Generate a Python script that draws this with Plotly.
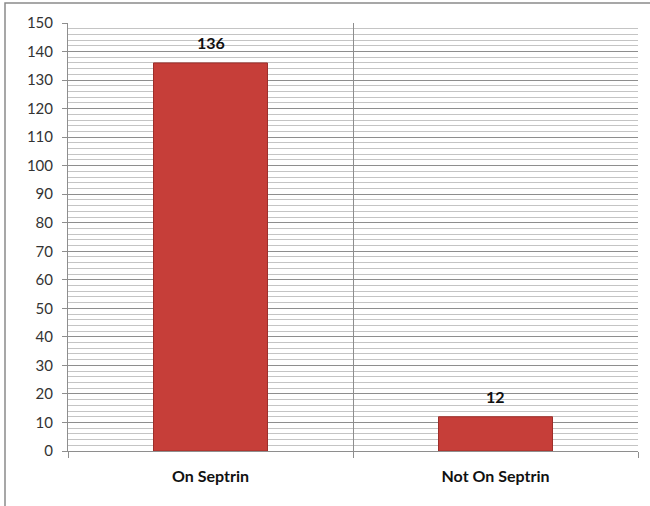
import plotly.graph_objects as go

categories = ["On Septrin", "Not On Septrin"]
values = [136, 12]
y_tick_values = list(range(0, 151, 10))

fig = go.Figure()
fig.add_trace(go.Bar(
    x=categories,
    y=values,
    marker=dict(color="#C63E39", line=dict(color="#9E2E2A", width=1)),
    cliponaxis=False,
))

for c, v in zip(categories, values):
    fig.add_annotation(
        x=c, y=v, text=str(v), showarrow=False,
        yanchor="bottom", yshift=9,
        font=dict(family="Lato", size=16, color="#111111", weight="bold"),
    )

# plot area in pixels: x 68..638, y 23..451
L, R, T, B = 68, 638, 23, 451
W, H = 650, 506
pw, ph = R - L, B - T

def px_x(x):
    return (x - L) / pw

def px_y(y):
    return (B - y) / ph

fig.update_layout(
    width=W, height=H,
    margin=dict(l=L, r=W - R, t=T, b=H - B),
    paper_bgcolor="white",
    plot_bgcolor="white",
    bargap=0.6,
    showlegend=False,
    font=dict(family="Lato", color="#333333"),
    shapes=[
        dict(type="rect", xref="paper", yref="paper",
             x0=px_x(5), x1=px_x(652), y0=px_y(509), y1=px_y(3),
             line=dict(color="#8a8a8a", width=1.5), fillcolor="rgba(0,0,0,0)", layer="below"),
    ],
)

fig.update_yaxes(
    range=[0, 150],
    tickvals=y_tick_values,
    showgrid=True, gridcolor="#8e8e8e", gridwidth=1,
    minor=dict(dtick=2, showgrid=True, gridcolor="#c4c4c4", gridwidth=1),
    showline=True, linecolor="#8e8e8e", linewidth=1,
    ticks="outside", ticklen=5, tickcolor="#8e8e8e",
    tickfont=dict(family="Lato", size=15, color="#333333"),
    ticklabelstandoff=6,
    zeroline=False,
    mirror=False,
)

fig.update_xaxes(
    type="category",
    tickson="boundaries",
    showgrid=True, gridcolor="#8e8e8e", gridwidth=1,
    ticks="outside", ticklen=6, tickcolor="#8e8e8e",
    showline=True, linecolor="#8e8e8e", linewidth=1,
    tickfont=dict(family="Lato", size=16, color="#111111", weight="bold"),
    ticklabelstandoff=11,
)

fig.write_html("out.html")
